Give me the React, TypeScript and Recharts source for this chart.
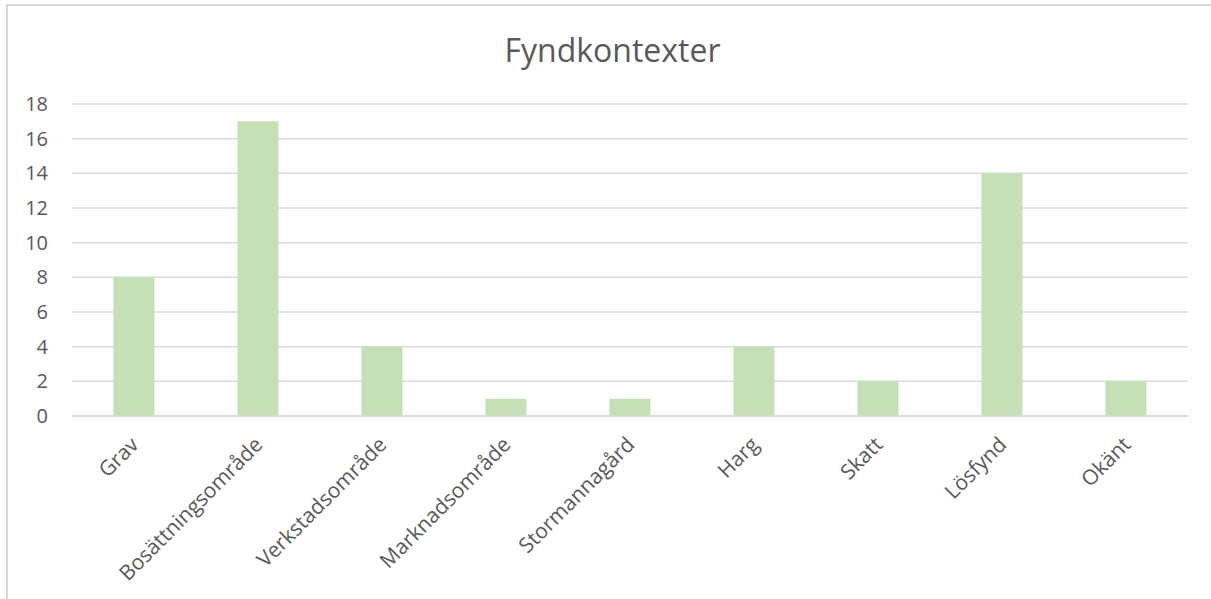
import React from "react";
import { BarChart, Bar, XAxis, YAxis, CartesianGrid } from "recharts";

const categories = [
  "Grav",
  "Bosättningsområde",
  "Verkstadsområde",
  "Marknadsområde",
  "Stormannagård",
  "Harg",
  "Skatt",
  "Lösfynd",
  "Okänt",
];
const counts = [8, 17, 4, 1, 1, 4, 2, 14, 2];
const yTicks = [0, 2, 4, 6, 8, 10, 12, 14, 16, 18];
const title = "Fyndkontexter";

const data = categories.map((c, i) => ({ name: c, value: counts[i] }));

const FONT = '"Open Sans", sans-serif';
const TEXT = "#595959";
const GRID = "#D9D9D9";

function AngledTick(props: any) {
  const { x, y, payload } = props;
  return (
    <g transform={`translate(${x - 2},${y + 22})`}>
      <text
        x={0}
        y={0}
        dy="0.535em"
        textAnchor="end"
        transform="rotate(-45)"
        fill={TEXT}
        style={{ fontFamily: FONT, fontSize: 21 }}
      >
        {payload.value}
      </text>
    </g>
  );
}

export default function App() {
  return (
    <div
      style={{
        position: "absolute",
        left: 0,
        top: 0,
        width: 1211,
        height: 599,
        overflow: "hidden",
        background: "#ffffff",
        fontFamily: FONT,
      }}
    >
      <div
        style={{
          position: "absolute",
          left: 6,
          top: 4,
          width: 1300,
          height: 700,
          border: `2px solid ${GRID}`,
          boxSizing: "border-box",
        }}
      />
      <BarChart
        width={1211}
        height={599}
        data={data}
        margin={{ top: 104, right: 23, left: 0, bottom: 0 }}
        barCategoryGap="33.4%"
        style={{ position: "absolute", left: 0, top: 0 }}
      >
        <text
          x={612.5}
          y={61.5}
          textAnchor="middle"
          fill={TEXT}
          style={{ fontFamily: FONT, fontSize: 32 }}
        >
          {title}
        </text>
        <CartesianGrid vertical={false} stroke={GRID} strokeWidth={1.5} />
        <XAxis
          dataKey="name"
          interval={0}
          tickLine={false}
          tickSize={0}
          tickMargin={0}
          height={183}
          axisLine={{ stroke: GRID, strokeWidth: 1.5 }}
          tick={<AngledTick />}
        />
        <YAxis
          width={72}
          domain={[0, 18]}
          ticks={yTicks}
          axisLine={false}
          tickLine={false}
          tickSize={0}
          tickMargin={24}
          tick={{ fill: TEXT, fontSize: 20, fontFamily: FONT }}
        />
        <Bar dataKey="value" fill="#C5E0B4" isAnimationActive={false} />
      </BarChart>
    </div>
  );
}
